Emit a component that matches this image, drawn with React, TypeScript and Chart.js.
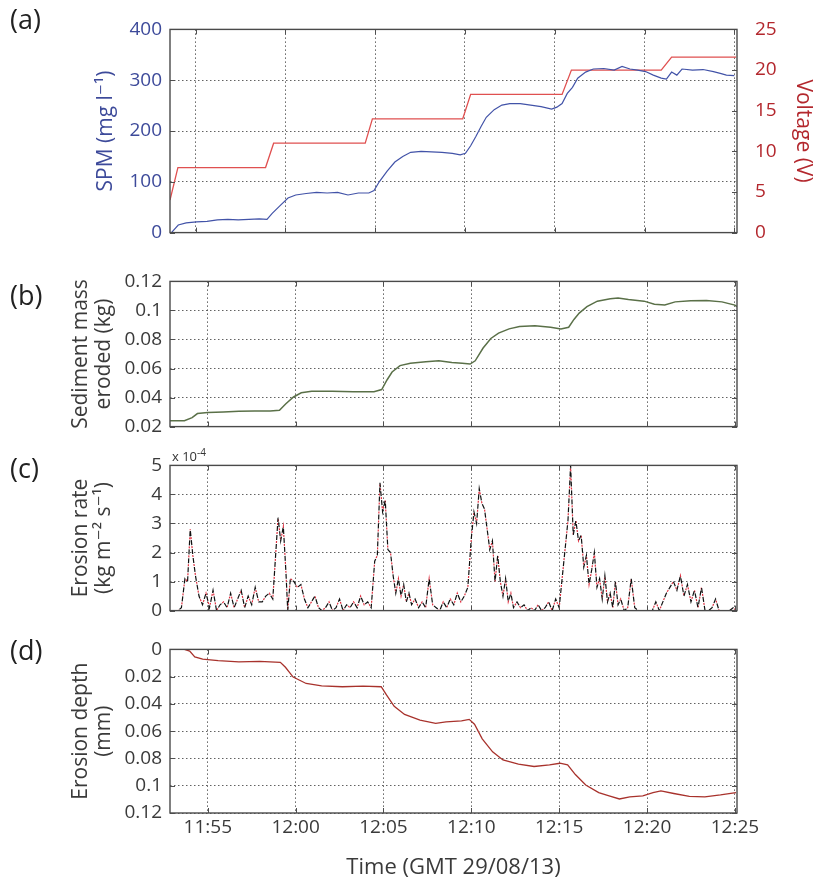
import React, { useEffect, useRef } from 'react';
import { Chart, registerables } from 'chart.js';
Chart.register(...registerables);

const FONT = '"Open Sans", "DejaVu Sans", sans-serif';
const GRID = 'rgba(70,70,70,0.85)';
const TEXT = '#3a3a3a';
const BLUE_TEXT = '#3d4a9a';
const BLUE_LINE = '#4253a8';
const RED_TEXT = '#b3272d';
const RED_LINE = '#e05050';

// time in minutes relative to 12:00 GMT
const timeTickValues = [-5, 0, 5, 10, 15, 20, 25];
const timeTickLabels = ['11:55', '12:00', '12:05', '12:10', '12:15', '12:20', '12:25'];

// (a) SPM and voltage
const spmTimes = [-6.34, -5.96, -5.52, -4.94, -4.36, -3.78, -3.2, -2.62, -2.03, -1.45, -1.02, -0.73, -0.29, 0.15, 0.58, 1.16, 1.74, 2.33, 2.91, 3.49, 4.07, 4.65, 4.94, 5.23, 5.67, 6.1, 6.54, 6.98, 7.56, 8.14, 8.72, 9.3, 9.74, 10.03, 10.32, 10.61, 10.9, 11.19, 11.63, 12.06, 12.5, 13.08, 13.66, 14.24, 14.83, 15.12, 15.41, 15.7, 15.99, 16.28, 16.72, 17.15, 17.73, 18.31, 18.75, 19.19, 19.62, 20.06, 20.49, 20.93, 21.22, 21.51, 21.8, 22.09, 22.67, 23.26, 23.84, 24.27, 24.56, 25.0];
const spmValues = [0, 15, 19, 21, 22, 25, 26, 25, 26, 27, 26, 38, 53, 68, 74, 77, 79, 78, 79, 74, 78, 78, 83, 100, 121, 139, 150, 158, 160, 159, 158, 156, 153, 156, 171, 189, 209, 227, 242, 251, 254, 254, 251, 248, 243, 247, 254, 274, 286, 304, 316, 322, 323, 320, 327, 322, 320, 317, 310, 304, 302, 316, 310, 322, 320, 321, 317, 313, 310, 309];
const voltTimes = [-6.42, -5.98, -1.1, -0.65, 4.45, 4.85, 9.88, 10.32, 15.41, 15.93, 20.93, 21.51, 25.1];
const voltValues = [4.0, 8, 8, 11, 11, 14, 14, 17, 17, 20, 20, 21.6, 21.6];
const spmTickValues = [0, 100, 200, 300, 400];
const voltTickValues = [0, 5, 10, 15, 20, 25];

// (b) sediment mass eroded
const massTimes = [-7.16, -6.33, -5.89, -5.59, -5.0, -4.11, -3.23, -2.34, -1.45, -0.92, -0.57, -0.12, 0.32, 0.91, 2.09, 3.28, 4.46, 4.9, 5.2, 5.49, 5.94, 6.53, 7.41, 8.15, 8.89, 9.48, 9.93, 10.22, 10.67, 11.11, 11.55, 12.15, 12.74, 13.62, 14.51, 15.1, 15.54, 15.84, 16.14, 16.58, 17.17, 17.91, 18.35, 18.94, 19.83, 20.42, 21.01, 21.6, 22.49, 23.38, 24.26, 25.0, 25.12];
const massValues = [0.024, 0.024, 0.0262, 0.029, 0.0297, 0.0301, 0.0305, 0.0308, 0.0308, 0.0312, 0.0356, 0.0404, 0.0433, 0.0444, 0.0444, 0.044, 0.044, 0.0455, 0.0521, 0.0576, 0.062, 0.0637, 0.0646, 0.0653, 0.0642, 0.0637, 0.0631, 0.0653, 0.0741, 0.0807, 0.0844, 0.0873, 0.089, 0.0895, 0.0884, 0.0873, 0.0884, 0.0938, 0.0982, 0.1026, 0.1064, 0.1081, 0.1086, 0.1075, 0.1064, 0.1042, 0.1037, 0.1059, 0.1066, 0.1068, 0.1059, 0.1037, 0.1026];
const massTickValues = [0.02, 0.04, 0.06, 0.08, 0.1, 0.12];
const massTickLabels = ['0.02', '0.04', '0.06', '0.08', '0.1', '0.12'];

// (c) erosion rate (x 10^-4)
const rateTimes = [-7.1, -6.9, -6.7, -6.5, -6.3, -6.15, -6.0, -5.85, -5.7, -5.5, -5.3, -5.1, -4.9, -4.7, -4.5, -4.3, -4.1, -3.9, -3.7, -3.5, -3.3, -3.1, -2.9, -2.7, -2.5, -2.3, -2.1, -1.9, -1.7, -1.5, -1.3, -1.15, -1.0, -0.85, -0.7, -0.55, -0.45, -0.3, -0.1, 0.1, 0.3, 0.5, 0.7, 0.9, 1.1, 1.3, 1.5, 1.7, 1.9, 2.1, 2.3, 2.5, 2.7, 2.9, 3.1, 3.3, 3.5, 3.7, 3.9, 4.1, 4.3, 4.5, 4.65, 4.8, 4.95, 5.1, 5.25, 5.4, 5.55, 5.7, 5.85, 6.0, 6.15, 6.3, 6.45, 6.6, 6.8, 7.0, 7.2, 7.4, 7.6, 7.8, 8.0, 8.2, 8.4, 8.6, 8.8, 9.0, 9.2, 9.4, 9.6, 9.8, 10.0, 10.15, 10.3, 10.45, 10.6, 10.75, 10.9, 11.05, 11.2, 11.35, 11.5, 11.65, 11.8, 11.95, 12.1, 12.25, 12.4, 12.6, 12.8, 13.0, 13.2, 13.4, 13.6, 13.8, 14.0, 14.2, 14.4, 14.6, 14.8, 15.0, 15.2, 15.35, 15.5, 15.65, 15.8, 15.95, 16.1, 16.25, 16.4, 16.55, 16.7, 16.85, 17.0, 17.15, 17.3, 17.45, 17.6, 17.75, 17.9, 18.05, 18.2, 18.35, 18.5, 18.7, 18.9, 19.1, 19.3, 19.5, 19.7, 19.9, 20.1, 20.3, 20.5, 20.7, 20.9, 21.1, 21.3, 21.5, 21.7, 21.9, 22.1, 22.3, 22.5, 22.7, 22.9, 23.1, 23.3, 23.5, 23.7, 23.9, 24.1, 24.3, 24.5, 24.7, 24.9, 25.1];
const rateValues = [0, 0, 0, 0.1, 1.1, 1.0, 2.8, 1.9, 1.2, 0.5, 0.2, 0.6, 0.1, 0.7, 0, 0.2, 0.3, 0.1, 0.6, 0.1, 0.4, 0.7, 0.1, 0.5, 0.2, 0.8, 0.3, 0.3, 0.5, 0.6, 0.4, 1.8, 3.2, 2.4, 2.9, 1.3, 0, 1.1, 1.0, 0.8, 0.9, 0.4, 0.1, 0.3, 0.5, 0.1, 0, 0.1, 0.3, 0, 0.1, 0.4, 0, 0.2, 0.1, 0.3, 0.1, 0.5, 0.2, 0.3, 0.1, 1.7, 1.9, 4.4, 3.4, 3.8, 2.1, 2.0, 1.2, 0.6, 1.1, 0.5, 0.9, 0.3, 0.6, 0.2, 0.4, 0.1, 0.3, 0.1, 1.1, 0.2, 0.1, 0, 0.3, 0.1, 0.4, 0.2, 0.6, 0.3, 0.5, 0.8, 2.5, 3.4, 3.0, 4.2, 3.7, 3.5, 2.8, 2.1, 2.4, 1.0, 1.9, 1.0, 0.5, 1.1, 0.3, 0.6, 0.1, 0.3, 0.1, 0.2, 0, 0.1, 0, 0.2, 0, 0.1, 0.3, 0, 0.4, 0.1, 1.3, 2.2, 3.1, 5.0, 2.6, 3.1, 2.4, 2.6, 1.5, 1.9, 0.9, 1.4, 2.0, 0.8, 1.1, 0.4, 1.2, 0.3, 0.6, 0.1, 1.0, 0.2, 0.4, 0, 0.1, 1.1, 0.1, 0, 0, 0, 0, 0, 0.3, 0, 0.3, 0.6, 0.8, 1.0, 0.7, 1.2, 0.5, 0.9, 0.3, 0.7, 0.1, 0.8, 0, 0, 0.1, 0.4, 0, 0, 0, 0, 0.1, 0];
const rateTickValues = [0, 1, 2, 3, 4, 5];

// (d) erosion depth
const depthTimes = [-7.15, -6.33, -6.03, -5.74, -5.29, -4.41, -3.23, -2.05, -0.87, -0.58, -0.14, 0.6, 1.48, 2.66, 3.84, 4.87, 5.17, 5.61, 6.2, 7.08, 7.97, 8.56, 9.44, 9.88, 10.18, 10.62, 11.21, 11.8, 12.68, 13.57, 14.45, 15.04, 15.48, 15.92, 16.51, 17.25, 17.84, 18.43, 19.02, 19.76, 20.34, 20.79, 21.52, 22.41, 23.29, 24.18, 25.06];
const depthValues = [0, 0, 0.0012, 0.0055, 0.0072, 0.0083, 0.0091, 0.0088, 0.0095, 0.0131, 0.0203, 0.025, 0.0267, 0.0274, 0.0269, 0.0274, 0.0334, 0.0417, 0.0477, 0.0518, 0.0542, 0.0532, 0.0525, 0.0513, 0.0549, 0.0656, 0.0751, 0.0811, 0.0842, 0.0859, 0.0847, 0.0835, 0.0847, 0.0918, 0.0995, 0.105, 0.1074, 0.1097, 0.1081, 0.1074, 0.105, 0.1038, 0.1057, 0.1078, 0.1081, 0.1067, 0.105];
const depthTickValues = [0, 0.02, 0.04, 0.06, 0.08, 0.1, 0.12];
const depthTickLabels = ['0', '0.02', '0.04', '0.06', '0.08', '0.1', '0.12'];

const pts = (xs: number[], ys: number[]) => xs.map((x, i) => ({ x, y: ys[i] }));
const labelFor = (vals: number[], labels: string[]) => (v: number) => {
  let best = 0;
  vals.forEach((t, i) => { if (Math.abs(t - v) < Math.abs(vals[best] - v)) best = i; });
  return labels[best];
};

const framePlugin = {
  id: 'frame',
  afterDatasetsDraw(chart: any) {
    const { ctx, chartArea: a } = chart;
    const seg = (x1: number, y1: number, x2: number, y2: number) => {
      ctx.beginPath(); ctx.moveTo(x1, y1); ctx.lineTo(x2, y2); ctx.stroke();
    };
    ctx.save();
    ctx.strokeStyle = '#505050';
    ctx.lineWidth = 1;
    const xs = chart.scales.x;
    for (const v of timeTickValues) {
      const px = Math.round(xs.getPixelForValue(v)) + 0.5;
      seg(px, a.bottom, px, a.bottom - 5);
      seg(px, a.top, px, a.top + 5);
    }
    const ys = chart.scales.y;
    const y2 = chart.scales.y2;
    for (const t of ys.ticks) {
      const py = Math.round(ys.getPixelForValue(t.value)) + 0.5;
      seg(a.left, py, a.left + 5, py);
      if (!y2) seg(a.right, py, a.right - 5, py);
    }
    if (y2) {
      for (const t of y2.ticks) {
        const py = Math.round(y2.getPixelForValue(t.value)) + 0.5;
        seg(a.right, py, a.right - 5, py);
      }
    }
    ctx.lineWidth = 1.4;
    ctx.strokeStyle = '#4a4a4a';
    ctx.strokeRect(a.left, a.top, a.right - a.left, a.bottom - a.top);
    ctx.restore();
  },
};

const tickFont = { family: FONT, size: 19 };
const titleFont = { family: FONT, size: 21, lineHeight: 1.1 };

function xScale(min: number, max: number, showLabels: boolean, height: number) {
  return {
    type: 'linear',
    min,
    max,
    afterBuildTicks: (s: any) => { s.ticks = timeTickValues.map((v) => ({ value: v })); },
    afterFit: (s: any) => { s.height = height; },
    grid: { display: true, color: GRID, lineWidth: 1, drawTicks: false },
    border: { display: false, dash: [1.5, 2.5] },
    ticks: {
      display: showLabels,
      autoSkip: false,
      maxRotation: 0,
      padding: 3,
      color: TEXT,
      font: tickFont,
      callback: (v: number) => labelFor(timeTickValues, timeTickLabels)(v),
    },
    title: showLabels
      ? { display: true, text: 'Time (GMT 29/08/13)', color: TEXT, font: { family: FONT, size: 22 }, padding: { top: 0, bottom: 1 } }
      : { display: false },
  };
}

function yScale(opts: {
  min: number; max: number; values: number[]; labels?: string[]; color: string;
  title: string | string[]; titlePad: number; reverse?: boolean; position?: string; width: number; pad: number; grid?: boolean;
}) {
  return {
    type: 'linear',
    position: opts.position || 'left',
    min: opts.min,
    max: opts.max,
    reverse: !!opts.reverse,
    afterBuildTicks: (s: any) => { s.ticks = opts.values.map((v) => ({ value: v })); },
    afterFit: (s: any) => { s.width = opts.width; },
    grid: { display: opts.grid !== false, color: GRID, lineWidth: 1, drawTicks: false },
    border: { display: false, dash: [1.5, 2.5] },
    ticks: {
      autoSkip: false,
      padding: opts.pad,
      color: opts.color,
      font: tickFont,
      callback: (v: number) => (opts.labels ? labelFor(opts.values, opts.labels)(v) : String(v)),
    },
    title: { display: true, text: opts.title, color: opts.color, font: titleFont, padding: { top: opts.titlePad, bottom: 0 } },
  };
}

const baseOptions = (padTop: number, padRight: number, scales: any) => ({
  responsive: false,
  animation: false,
  events: [],
  layout: { padding: { top: padTop, right: padRight, left: 0, bottom: 0 } },
  plugins: { legend: { display: false }, tooltip: { enabled: false } },
  scales,
});

function buildA(): any {
  return {
    type: 'line',
    data: {
      datasets: [
        { data: pts(spmTimes, spmValues), yAxisID: 'y', borderColor: BLUE_LINE, borderWidth: 1.2, pointRadius: 0, tension: 0 },
        { data: pts(voltTimes, voltValues), yAxisID: 'y2', borderColor: RED_LINE, borderWidth: 1.3, pointRadius: 0, tension: 0 },
      ],
    },
    options: baseOptions(18, 0, {
      x: xScale(-6.42, 25.15, false, 18),
      y: yScale({ min: 0, max: 400, values: spmTickValues, color: BLUE_TEXT, title: 'SPM (mg l\u207B\u00B9)', titlePad: 94, width: 170, pad: 8 }),
      y2: yScale({ min: 0, max: 25, values: voltTickValues, color: RED_TEXT, title: 'Voltage (V)', titlePad: 4.5, position: 'right', width: 82, pad: 18, grid: false }),
    }),
    plugins: [framePlugin],
  };
}

function buildB(): any {
  return {
    type: 'line',
    data: {
      datasets: [
        { data: pts(massTimes, massValues), borderColor: '#5a7048', borderWidth: 1.5, pointRadius: 0, tension: 0 },
      ],
    },
    options: baseOptions(18, 82, {
      x: xScale(-7.15, 25.12, false, 16),
      y: yScale({ min: 0.02, max: 0.12, values: massTickValues, labels: massTickLabels, color: TEXT, title: ['Sediment mass', 'eroded (kg)'], titlePad: 69.5, width: 170, pad: 8 }),
    }),
    plugins: [framePlugin],
  };
}

function buildC(): any {
  return {
    type: 'line',
    data: {
      datasets: [
        { data: pts(rateTimes, rateValues), borderColor: '#111111', borderWidth: 1.2, borderDash: [5, 4], pointRadius: 0, tension: 0 },
        { data: pts(rateTimes, rateValues), borderColor: '#e03040', borderWidth: 1.2, borderDash: [2, 7], borderDashOffset: -6, pointRadius: 0, tension: 0 },
      ],
    },
    options: baseOptions(18, 82, {
      x: xScale(-7.15, 25.12, false, 16),
      y: yScale({ min: 0, max: 5, values: rateTickValues, color: TEXT, title: ['Erosion rate', '(kg m\u207B\u00B2 s\u207B\u00B9)'], titlePad: 69.5, width: 170, pad: 8 }),
    }),
    plugins: [framePlugin],
  };
}

function buildD(): any {
  return {
    type: 'line',
    data: {
      datasets: [
        { data: pts(depthTimes, depthValues), borderColor: '#a8322c', borderWidth: 1.3, pointRadius: 0, tension: 0 },
      ],
    },
    options: baseOptions(15, 82, {
      x: xScale(-7.15, 25.12, true, 69),
      y: yScale({ min: 0, max: 0.12, values: depthTickValues, labels: depthTickLabels, color: TEXT, title: ['Erosion depth', '(mm)'], titlePad: 69.5, width: 170, pad: 8, reverse: true }),
    }),
    plugins: [framePlugin],
  };
}

function Panel({ top, height, build }: { top: number; height: number; build: () => any }) {
  const ref = useRef<HTMLCanvasElement>(null);
  useEffect(() => {
    const chart = new Chart(ref.current as HTMLCanvasElement, build());
    return () => chart.destroy();
  }, []);
  return (
    <canvas
      ref={ref}
      width={819}
      height={height}
      style={{ position: 'absolute', left: 0, top, width: 819, height }}
    />
  );
}

const labelStyle = (top: number): React.CSSProperties => ({
  position: 'absolute', left: 10, top, fontFamily: FONT, fontSize: 27, color: '#222', lineHeight: '32px',
});

export default function App() {
  return (
    <div style={{ position: 'absolute', left: 0, top: 0, width: 819, height: 882, background: '#fff', overflow: 'hidden' }}>
      <Panel top={0} height={262} build={buildA} />
      <Panel top={262} height={184} build={buildB} />
      <Panel top={446} height={184} build={buildC} />
      <Panel top={630} height={252} build={buildD} />
      <div style={labelStyle(3)}>(a)</div>
      <div style={labelStyle(279)}>(b)</div>
      <div style={labelStyle(452)}>(c)</div>
      <div style={labelStyle(634)}>(d)</div>
      <div style={{ position: 'absolute', left: 172, top: 444, fontFamily: FONT, fontSize: 13, color: '#333', lineHeight: '16px' }}>
        x 10<sup style={{ fontSize: 10 }}>-4</sup>
      </div>
    </div>
  );
}
